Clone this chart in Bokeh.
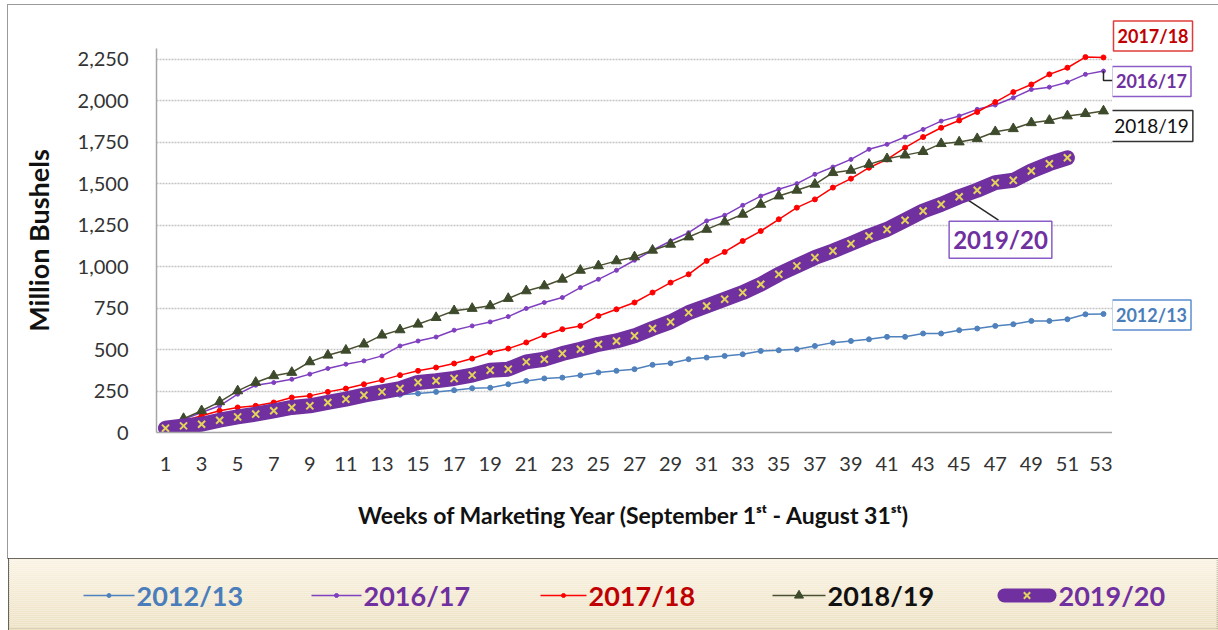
from bokeh.plotting import figure
from bokeh.models import FixedTicker, NumeralTickFormatter, Label, Range1d, Spacer, Title
from bokeh.layouts import column, row
from bokeh.embed import file_html
from bokeh.resources import INLINE
from bokeh.core.properties import value

# ---------------- data ----------------
weeks = list(range(1, 54))

y_2012_13 = [25, 40, 60, 80, 100, 115, 125, 140, 155, 170, 185, 200, 218, 228,
             235, 245, 255, 267, 270, 291, 311, 326,
             331, 345, 362, 372, 382, 408, 418, 442, 452, 462, 472, 492, 496, 502,
             522, 542, 552, 562, 577, 577, 597, 597, 617, 627, 643, 653, 673, 673,
             683, 713, 715]

y_2016_17 = [20, 80, 121, 161, 231, 285, 301, 321, 352, 386, 412, 432, 462, 522,
             552, 576, 617, 643, 667, 699, 748, 784,
             814, 874, 924, 978, 1039, 1099, 1155, 1205, 1276, 1310, 1370, 1426,
             1467, 1501, 1557, 1601, 1647, 1708, 1738, 1782, 1828, 1878, 1909,
             1949, 1975, 2019, 2069, 2083, 2113, 2160, 2180]

y_2017_18 = [20, 70, 101, 131, 151, 161, 181, 211, 221, 245, 265, 291, 316, 346,
             372, 392, 416, 446, 482, 506, 543, 587,
             623, 643, 703, 743, 784, 844, 904, 954, 1035, 1089, 1155, 1215, 1286,
             1356, 1406, 1477, 1531, 1597, 1647, 1718, 1782, 1838, 1882, 1933,
             1993, 2053, 2099, 2160, 2200, 2264, 2262]

y_2018_19 = [20, 84, 131, 185, 251, 302, 342, 362, 426, 466, 496, 533, 587, 619,
             653, 693, 734, 748, 764, 808, 854, 884,
             924, 978, 1005, 1035, 1059, 1099, 1135, 1179, 1225, 1270, 1316, 1376,
             1426, 1461, 1497, 1567, 1581, 1617, 1651, 1673, 1694, 1742, 1752,
             1772, 1814, 1832, 1868, 1882, 1909, 1923, 1939]

weeks_2019_20 = list(range(1, 52))
y_2019_20 = [26, 40, 50, 74, 94, 111, 131, 151, 161, 181, 201, 225, 245, 265,
             302, 312, 326, 346, 376, 382, 426, 442,
             476, 502, 532, 552, 583, 627, 667, 723, 763, 804, 844, 894, 954, 1005,
             1055, 1095, 1139, 1185, 1225, 1280, 1336, 1376, 1422, 1461, 1507,
             1521, 1577, 1621, 1657]

x_ticks = list(range(1, 54, 2))
y_ticks = [0, 250, 500, 750, 1000, 1250, 1500, 1750, 2000, 2250]

series_labels = ["2012/13", "2016/17", "2017/18", "2018/19", "2019/20"]
label_colors = ["#4a7ebb", "#7030a0", "#c00000", "#111111", "#7030a0"]

FONT = "Lato"
Y_MAX = 2316          # top of plotting area

# ---------------- main chart ----------------
p = figure(width=1104, height=553, x_range=Range1d(0.5, 53.5), y_range=Range1d(0, Y_MAX),
           output_backend="svg", toolbar_location=None,
           min_border_left=148, min_border_right=0, min_border_top=43, min_border_bottom=126)
p.outline_line_color = None

p.xgrid.visible = False
p.ygrid.grid_line_color = "#c4c4c4"
p.ygrid.grid_line_width = 1.5
p.ygrid.grid_line_dash = "2 1"

p.yaxis.ticker = FixedTicker(ticks=y_ticks)
p.yaxis.formatter = NumeralTickFormatter(format="0,0")
p.xaxis.ticker = FixedTicker(ticks=x_ticks)

for ax in (p.xaxis, p.yaxis):
    ax.axis_line_color = "#a6a6a6"
    ax.axis_line_width = 1.5
    ax.major_tick_line_color = None
    ax.minor_tick_line_color = None
    ax.major_label_text_font = FONT
    ax.major_label_text_font_size = "20px"
    ax.major_label_text_color = "#333333"
    ax.axis_label_text_font = FONT
    ax.axis_label_text_font_style = "bold"
    ax.axis_label_text_color = "#111111"

p.yaxis.major_label_standoff = 22
p.yaxis.axis_label = "Million Bushels"
p.yaxis.axis_label_text_font_size = "27px"
p.yaxis.axis_label_standoff = 20

p.xaxis.major_label_standoff = 18
p.xaxis.axis_label = "Weeks of Marketing Year (September 1\u02e2\u1d57 - August 31\u02e2\u1d57)"
p.xaxis.axis_label_text_font_size = "23px"
p.xaxis.axis_label_standoff = 27

# series
p.line(weeks, y_2012_13, line_color="#4f81bd", line_width=1.5)
p.scatter(weeks, y_2012_13, marker="circle", size=5, color="#4f81bd")

p.line(weeks, y_2016_17, line_color="#7f3fbf", line_width=1.5)
p.scatter(weeks, y_2016_17, marker="circle", size=4, color="#7f3fbf")

p.line(weeks, y_2017_18, line_color="#ff0000", line_width=1.5)
p.scatter(weeks, y_2017_18, marker="circle", size=5, color="#ff0000")

p.line(weeks, y_2018_19, line_color="#4a4f30", line_width=1.5)
p.scatter(weeks, y_2018_19, marker="triangle", size=10, color="#3d4a2b")

# connector for 2019/20 label (under the band)
i45 = 44
p.line([weeks_2019_20[i45] + 0.2, 47.18], [y_2019_20[i45], 1281], line_color="#262626", line_width=1.5)

p.line(weeks_2019_20, y_2019_20, line_color="#7030a0", line_width=15, line_cap="round", line_join="round")
p.scatter(weeks_2019_20, y_2019_20, marker="x", size=10, line_color="#e2d35a", line_width=2)

# elbow connector for 2016/17 label
ELBOW_Y = 2123
p.line([weeks[-1], weeks[-1], 53.6], [y_2016_17[-1], ELBOW_Y, ELBOW_Y], line_color="#262626", line_width=1.5)

p.add_layout(Label(x=47.29, y=1163, text=series_labels[4], text_font=FONT, text_font_size="24px",
                   text_font_style="bold", text_color=label_colors[4], text_align="center",
                   text_baseline="middle", border_line_color="#8a5cc8", border_line_width=1.5,
                   background_fill_color="white", padding=4))

# ---------------- right strip with end labels (frame aligned with main chart) ----------------
rp = figure(width=106, height=553, x_range=Range1d(0, 106), y_range=p.y_range,
            output_backend="svg", toolbar_location=None, min_border=0,
            x_axis_location=None, y_axis_location=None)
rp.grid.visible = False
rp.outline_line_color = None

rp.title = Title(text=series_labels[2], text_font=FONT, text_font_size="18px",
                 text_font_style="bold", text_color=label_colors[2], align="left",
                 offset=1, standoff=-5, border_line_color="#e03c3c", border_line_width=1.5,
                 background_fill_color="white", padding=4)

def boxed(y, text, color, border, size, style="bold"):
    rp.add_layout(Label(x=39, y=y, text=text, text_font=FONT, text_font_size=size,
                        text_font_style=style, text_color=color, text_align="center",
                        text_baseline="middle", border_line_color=border, border_line_width=1.5,
                        background_fill_color="white", padding=4))

rp.line([0, 3], [ELBOW_Y, ELBOW_Y], line_color="#262626", line_width=1.5)
boxed(2117, series_labels[1], label_colors[1], "#8a5cc8", "18px")
boxed(1849, series_labels[3], label_colors[3], "#333333", "19px", "normal")
boxed(709, series_labels[0], label_colors[0], "#5b8fd0", "18px")

# ---------------- legend band ----------------
lg = figure(width=1210, height=72, x_range=Range1d(0, 1210), y_range=Range1d(0, 72),
            output_backend="svg", toolbar_location=None, min_border=0,
            x_axis_location=None, y_axis_location=None)
lg.grid.visible = False
lg.outline_line_color = "#3a3a3a"
lg.outline_line_width = 2

top_rgb = (250, 243, 228)
bot_rgb = (238, 226, 196)
n = 36
bottoms, tops, cols = [], [], []
for i in range(n):
    t = i / (n - 1)
    r = [round(top_rgb[k] + (bot_rgb[k] - top_rgb[k]) * t) for k in range(3)]
    cols.append("#%02x%02x%02x" % tuple(r))
    tops.append(72 - i * 2)
    bottoms.append(72 - (i + 1) * 2)
lg.quad(left=0, right=1210, top=tops, bottom=bottoms, fill_color=cols, line_color=None)

ly = 35
sw_x0 = [75, 303, 532, 764, 996]
sw_x1 = [126, 353, 578, 817, 1041]
sw_colors = ["#4f81bd", "#7f3fbf", "#ff0000", "#4a4f30", "#7030a0"]
for i in range(4):
    lg.line([sw_x0[i], sw_x1[i]], [ly, ly], line_color=sw_colors[i], line_width=1.5)
lg.line([sw_x0[4], sw_x1[4]], [ly, ly], line_color=sw_colors[4], line_width=14, line_cap="round")
mid = [(a + b) / 2 for a, b in zip(sw_x0, sw_x1)]
lg.scatter(mid[:3], [ly] * 3, marker="circle", size=4, color=sw_colors[:3])
lg.scatter([mid[3]], [ly], marker="triangle", size=9, color="#3d4a2b")
lg.scatter([mid[4]], [ly], marker="x", size=9, line_color="#e2d35a", line_width=2)

txt_x = [128, 355, 580, 819, 1050]
lg.text(x=txt_x, y=[ly] * 5, text=series_labels, text_color=label_colors,
        text_font=value(FONT), text_font_size="27px", text_font_style="bold",
        text_align="left", text_baseline="middle")

chart_row = row(p, rp, spacing=0)
chart_row.styles = {"outline": "1px solid #9a9a9a"}
inner = column(chart_row, lg, spacing=0)
layout = column(Spacer(height=5), row(Spacer(width=8), inner, spacing=0), spacing=0)
open("out.html", "w").write(file_html(layout, INLINE))
